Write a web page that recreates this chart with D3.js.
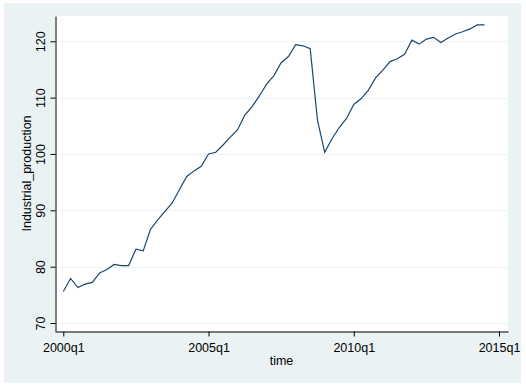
<!DOCTYPE html>
<html>
<head>
<meta charset="utf-8">
<script src="https://cdn.jsdelivr.net/npm/d3@7"></script>
<style>
  body { margin: 0; background: #fff; }
  text { font-family: "Liberation Sans", Arial, sans-serif; fill: #000; }
</style>
</head>
<body>
<div id="chart"></div>
<script>
// quarterly series, first observation 2000q1
var startYear = 2000;
var production = [
  75.6, 77.9, 76.3, 76.9, 77.2, 78.9, 79.5, 80.4, 80.2, 80.2,
  83.1, 82.8, 86.6, 88.3, 89.8, 91.3, 93.7, 96.0, 97.0, 97.8,
  100.0, 100.3, 101.6, 103.0, 104.3, 106.9, 108.4, 110.3, 112.4, 113.9,
  116.2, 117.3, 119.4, 119.2, 118.7, 106.0, 100.3, 102.7, 104.7, 106.3,
  108.8, 109.8, 111.3, 113.5, 114.9, 116.4, 116.9, 117.7, 120.2, 119.5,
  120.4, 120.7, 119.8, 120.6, 121.3, 121.7, 122.2, 122.9, 122.9
];
var yTicks = [70, 80, 90, 100, 110, 120];
var xTickIdx = [0, 20, 40, 60];
var xTickLabels = ["2000q1", "2005q1", "2010q1", "2015q1"];

var W = 526, H = 389;
var plot = {left: 55, right: 508, top: 16, bottom: 331};

var data = production.map(function(v, i) { return {t: i, v: v}; });

var svg = d3.select("#chart").append("svg")
  .attr("width", W).attr("height", H);

// graph region background
svg.append("rect")
  .attr("x", 4).attr("y", 3).attr("width", 517).attr("height", 380)
  .attr("fill", "#eaf2f3");

svg.append("rect")
  .attr("x", plot.left).attr("y", plot.top)
  .attr("width", plot.right - plot.left).attr("height", plot.bottom - plot.top)
  .attr("fill", "#fff");

var y0 = d3.scaleLinear().domain([70, 120]).range([323, 41.3]);
var y = d3.scaleLinear()
  .domain([y0.invert(plot.bottom), y0.invert(plot.top)])
  .range([plot.bottom, plot.top]);

var x0 = d3.scaleLinear().domain([0, 60]).range([63.3, 499]);
var x = d3.scaleLinear()
  .domain([x0.invert(plot.left), x0.invert(plot.right)])
  .range([plot.left, plot.right]);

// gridlines
svg.append("g")
  .selectAll("line")
  .data(yTicks)
  .enter().append("line")
    .attr("x1", plot.left).attr("x2", plot.right)
    .attr("y1", function(d) { return Math.round(y(d)) + 0.5; })
    .attr("y2", function(d) { return Math.round(y(d)) + 0.5; })
    .attr("stroke", "#eaf2f3").attr("stroke-width", 1);

// the series
svg.append("path")
  .datum(data)
  .attr("fill", "none")
  .attr("stroke", "#1a476f")
  .attr("stroke-width", 1.2)
  .attr("d", d3.line()
    .x(function(d) { return x(d.t); })
    .y(function(d) { return y(d.v); }));

// Y AXIS
var yAxis = svg.append("g")
  .attr("transform", "translate(" + (plot.left + 0.5) + ",0)")
  .call(d3.axisLeft(y).tickValues(yTicks).tickSize(5).tickSizeOuter(0));
yAxis.select(".domain").attr("stroke", "#000");
yAxis.selectAll(".tick line").attr("stroke", "#000");
yAxis.selectAll(".tick text")
  .attr("x", null).attr("dy", null)
  .attr("transform", "translate(-10.5,0) rotate(-90)")
  .attr("text-anchor", "middle")
  .style("font-size", "12.5px")
  .style("font-family", "'Liberation Sans', Arial, sans-serif");

// X AXIS
var xAxis = svg.append("g")
  .attr("transform", "translate(0," + (plot.bottom + 0.5) + ")")
  .call(d3.axisBottom(x).tickValues(xTickIdx).tickSize(5).tickSizeOuter(0)
    .tickFormat(function(d, i) { return xTickLabels[i]; }));
xAxis.select(".domain").attr("stroke", "#000");
xAxis.selectAll(".tick line").attr("stroke", "#000");
xAxis.selectAll(".tick text")
  .attr("y", 20.5).attr("dy", null)
  .style("font-size", "12.5px")
  .style("font-family", "'Liberation Sans', Arial, sans-serif");

// axis titles
svg.append("text")
  .attr("transform", "translate(31," + ((plot.top + plot.bottom) / 2) + ") rotate(-90)")
  .attr("text-anchor", "middle")
  .style("font-size", "12.5px")
  .text("Industrial_production");

svg.append("text")
  .attr("x", (plot.left + plot.right) / 2)
  .attr("y", 364.5)
  .attr("text-anchor", "middle")
  .style("font-size", "12.5px")
  .text("time");
</script>
</body>
</html>
